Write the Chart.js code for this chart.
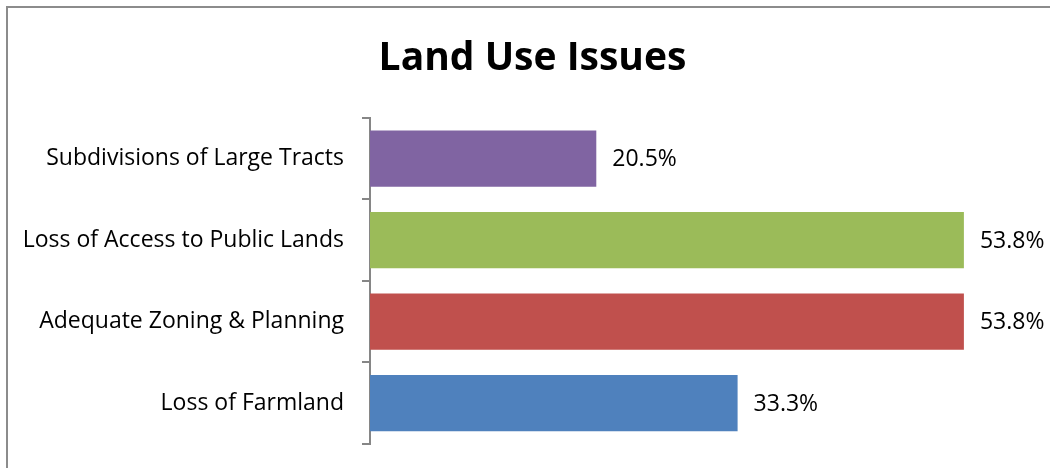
<!DOCTYPE html>
<html lang="en">
<head>
    <meta charset="UTF-8">
    <title>Land Use Issues</title>
    <script src="https://cdn.jsdelivr.net/npm/chart.js"></script>
    <style>
        html, body {
            margin: 0;
            padding: 0;
            background: #fff;
            overflow: hidden;
            width: 1050px;
            height: 468px;
        }
        .frame {
            position: absolute;
            left: 6px;
            top: 6px;
            width: 1100px;
            height: 520px;
            border: 2px solid #8c8c8c;
            box-sizing: border-box;
        }
        .wrap {
            position: absolute;
            left: 0;
            top: 0;
            width: 1050px;
            height: 468px;
        }
    </style>
</head>
<body>
    <div class="frame"></div>
    <div class="wrap"><canvas id="landChart"></canvas></div>

    <script>
        // categories top to bottom, as in the picture
        const categories = [
            'Subdivisions of Large Tracts',
            'Loss of Access to Public Lands',
            'Adequate Zoning & Planning',
            'Loss of Farmland'
        ];
        const percentages = [20.5, 53.8, 53.8, 33.3];
        const barColors = ['#8064A2', '#9BBB59', '#C0504D', '#4F81BD'];

        const FONT = "'Open Sans', sans-serif";

        // value labels at the end of each bar
        const valueLabels = {
            id: 'valueLabels',
            afterDatasetsDraw(chart) {
                const ctx = chart.ctx;
                const meta = chart.getDatasetMeta(0);
                ctx.save();
                ctx.font = '23px ' + FONT;
                ctx.fillStyle = '#000';
                ctx.textAlign = 'left';
                ctx.textBaseline = 'middle';
                meta.data.forEach((bar, i) => {
                    ctx.fillText(percentages[i].toFixed(1) + '%', bar.x + 16, bar.y + 1);
                });
                ctx.restore();
            }
        };

        const ctx = document.getElementById('landChart').getContext('2d');
        new Chart(ctx, {
            type: 'bar',
            data: {
                labels: categories,
                datasets: [{
                    data: percentages,
                    backgroundColor: barColors,
                    borderWidth: 0,
                    barPercentage: 1,
                    categoryPercentage: 0.69
                }]
            },
            options: {
                indexAxis: 'y',
                responsive: true,
                maintainAspectRatio: false,
                animation: false,
                layout: {
                    padding: { left: 15, right: 0, top: 0, bottom: 24 }
                },
                plugins: {
                    legend: { display: false },
                    tooltip: { enabled: false },
                    title: {
                        display: true,
                        text: 'Land Use Issues',
                        color: '#000',
                        font: { family: FONT, size: 39, weight: 'bold', lineHeight: 1.2 },
                        padding: { top: 35, bottom: 36 }
                    }
                },
                scales: {
                    x: {
                        display: false,
                        min: 0,
                        max: 61.6
                    },
                    y: {
                        afterFit: (scale) => {
                            scale.width = 355;
                            scale.paddingTop = 0;
                            scale.paddingBottom = 0;
                        },
                        border: { display: true, color: '#868686', width: 2 },
                        grid: {
                            display: true,
                            drawOnChartArea: false,
                            offset: true,
                            tickLength: 8,
                            color: '#868686',
                            lineWidth: 2
                        },
                        ticks: {
                            color: '#000',
                            padding: 18,
                            font: { family: FONT, size: 23 }
                        }
                    }
                }
            },
            plugins: [valueLabels]
        });
    </script>
</body>
</html>
